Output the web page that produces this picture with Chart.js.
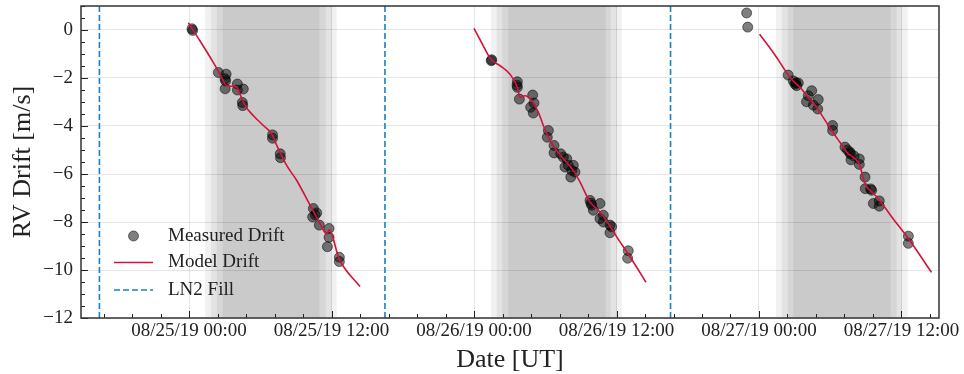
<!DOCTYPE html>
<html>
<head>
<meta charset="utf-8">
<script src="https://cdn.jsdelivr.net/npm/chart.js@4.4.0/dist/chart.umd.min.js"></script>
<style>
  html, body { margin: 0; padding: 0; background: #fff; }
  #wrap { width: 964px; height: 374px; }
</style>
</head>
<body>
<div id="wrap"><canvas id="drift" width="964" height="374"></canvas></div>
<script>
// hours since 08/25/19 00:00 UT
const xMin = -9.1, xMax = 63.16;
const yMin = -12, yMax = 1;

const xTickHours = [0, 12, 24, 36, 48, 60];
const xTickLabels = ['08/25/19 00:00', '08/25/19 12:00', '08/26/19 00:00',
  '08/26/19 12:00', '08/27/19 00:00', '08/27/19 12:00'];
const yTickValues = [0, -2, -4, -6, -8, -10, -12];

// measured drift, one pair of arrays per night
const n1Hours = [0.25, 0.30, 2.47, 3.12, 3.03, 3.08, 3.04, 4.07, 4.07, 4.57, 4.49, 4.52, 7.03, 7.03, 7.68, 7.70,
  10.47, 10.75, 10.41, 10.62, 10.97, 11.79, 11.79, 11.65, 12.66, 12.66];
const n1Drift = [0.05, -0.02, -1.77, -1.84, -2.03, -2.12, -2.45, -2.25, -2.50, -2.46, -3.02, -3.15, -4.37, -4.51, -5.16, -5.32,
  -7.44, -7.62, -7.79, -7.70, -8.13, -8.27, -8.64, -9.03, -9.47, -9.65];

const n2Hours = [25.49, 25.45, 27.65, 27.62, 27.65, 27.82, 28.94, 29.05, 28.77, 28.99, 30.26, 30.17, 30.74, 30.74,
  31.30, 31.52, 31.81, 31.66, 31.94, 32.36, 32.23, 32.50, 32.15, 33.77, 33.91, 33.85, 34.61, 34.05, 34.89, 34.61,
  34.89, 35.45, 35.59, 35.45, 36.99, 36.94];
const n2Drift = [-1.24, -1.28, -2.16, -2.30, -2.39, -2.88, -2.71, -3.04, -3.22, -3.46, -4.19, -4.47, -4.81, -5.12,
  -5.16, -5.30, -5.37, -5.71, -5.64, -5.64, -5.85, -5.92, -6.13, -7.10, -7.30, -7.22, -7.23, -7.51, -7.72, -7.86,
  -8.00, -8.13, -8.20, -8.45, -9.20, -9.51];

const n3Hours = [46.96, 47.05, 50.46, 50.89, 51.03, 51.31, 51.17, 51.10, 52.44, 52.15, 52.00, 52.57, 52.99, 52.95,
  54.20, 54.20, 55.24, 55.45, 55.66, 55.69, 55.75, 56.00, 56.45, 56.45, 56.93, 56.95, 57.40, 57.49, 57.63,
  58.13, 58.13, 60.58, 60.58];
const n3Drift = [0.71, 0.12, -1.88, -2.12, -2.25, -2.21, -2.32, -2.20, -2.53, -2.74, -2.99, -3.13, -2.90, -3.29,
  -3.98, -4.19, -4.88, -5.00, -5.09, -5.16, -5.41, -5.25, -5.37, -5.60, -6.13, -6.61, -6.62, -6.68, -7.23,
  -7.12, -7.34, -8.59, -8.89];

// model drift
const m1Hours = [-0.06, 0.93, 2.05, 2.61, 3.17, 4.01, 4.29, 4.72, 5.42, 6.26, 6.96, 7.24, 7.66, 8.22, 9.07,
  10.19, 10.89, 11.45, 11.62, 11.79, 12.66, 14.40];
const m1Drift = [0.30, -0.46, -1.36, -1.84, -2.32, -2.37, -2.67, -3.15, -3.57, -3.98, -4.33, -4.65, -5.09, -5.64, -6.27,
  -7.30, -7.93, -8.45, -8.50, -8.33, -9.56, -10.69];
const m2Hours = [24.0, 24.78, 25.45, 26.19, 27.03, 27.65, 27.87, 28.29, 28.86, 29.42, 29.84, 30.26, 30.96, 31.66,
  32.36, 32.93, 33.77, 34.61, 35.31, 36.02, 37.14, 38.48];
const m2Drift = [0.07, -0.66, -1.24, -1.49, -1.84, -2.39, -2.81, -2.74, -2.95, -3.43, -3.98, -4.47, -5.02, -5.44,
  -5.85, -6.34, -7.17, -7.58, -8.06, -8.62, -9.45, -10.51];
const m3Hours = [48.05, 49.2, 50.04, 50.61, 51.58, 52.15, 52.86, 53.41, 54.12, 54.82, 55.52, 55.94, 56.5, 56.78,
  57.07, 57.35, 58.05, 59.18, 60.58, 62.53];
const m3Drift = [-0.18, -0.94, -1.56, -1.98, -2.46, -2.81, -3.22, -3.64, -4.19, -4.68, -5.16, -5.30, -5.64, -6.20,
  -6.54, -6.68, -7.03, -7.79, -8.69, -10.10];

const ln2FillHours = [-7.55, 16.5, 40.55];

// twilight steps (evening / morning), hours
const nightStart = [[1.35, 1.85, 2.33, 2.84], [25.43, 25.91, 26.38, 26.89], [49.43, 49.91, 50.42, 50.89]];
const nightEnd = [[10.97, 11.51, 12.02, 12.44], [35.09, 35.51, 36.02, 36.44], [59.09, 59.60, 60.02, 60.52]];

const serif = "'Liberation Serif', 'DejaVu Serif', serif";
const pts = (hs, vs) => hs.map((h, i) => ({ x: h, y: vs[i] }));

const nightShade = {
  id: 'nightShade',
  beforeDraw(chart) {
    const { ctx, chartArea: a, scales: { x } } = chart;
    ctx.save();
    ctx.fillStyle = '#fff';
    ctx.fillRect(0, 0, chart.width, chart.height);
    ctx.beginPath();
    ctx.rect(a.left, a.top, a.right - a.left, a.bottom - a.top);
    ctx.clip();
    ctx.fillStyle = 'rgba(0,0,0,0.055)';
    nightStart.forEach((starts, n) => {
      const ends = nightEnd[n];
      for (let k = 0; k < starts.length; k++) {
        const x0 = x.getPixelForValue(starts[k]);
        const x1 = x.getPixelForValue(ends[ends.length - 1 - k]);
        ctx.fillRect(x0, a.top, x1 - x0, a.bottom - a.top);
      }
    });
    ctx.restore();
  }
};

const frameAndLegend = {
  id: 'frameAndLegend',
  afterDraw(chart) {
    const { ctx, chartArea: a, scales: { x, y } } = chart;
    ctx.save();
    // inward ticks
    ctx.strokeStyle = '#222';
    ctx.lineWidth = 1;
    ctx.beginPath();
    for (let i = Math.ceil(x.min / 2.4); i * 2.4 <= x.max; i++) {
      const px = Math.round(x.getPixelForValue(i * 2.4)) + 0.5;
      const len = i % 5 === 0 ? 7 : 4;
      ctx.moveTo(px, a.bottom);
      ctx.lineTo(px, a.bottom - len);
    }
    for (let i = Math.ceil(y.min / 0.5); i * 0.5 <= y.max; i++) {
      const py = Math.round(y.getPixelForValue(i * 0.5)) + 0.5;
      const len = i % 4 === 0 ? 7 : 4;
      ctx.moveTo(a.left, py);
      ctx.lineTo(a.left + len, py);
    }
    ctx.stroke();
    // frame
    ctx.strokeStyle = '#333';
    ctx.lineWidth = 1.5;
    ctx.strokeRect(a.left, a.top, a.right - a.left, a.bottom - a.top);

    // legend
    const lx = a.left + 33, tx = a.left + 87;
    const rows = [a.bottom - 82, a.bottom - 55.5, a.bottom - 28];
    ctx.beginPath();
    ctx.arc(lx + 19.5, rows[0], 5, 0, Math.PI * 2);
    ctx.fillStyle = 'rgba(0,0,0,0.5)';
    ctx.strokeStyle = 'rgba(0,0,0,0.5)';
    ctx.lineWidth = 1;
    ctx.fill();
    ctx.stroke();
    ctx.lineWidth = 1.6;
    ctx.strokeStyle = '#d3123c';
    ctx.beginPath();
    ctx.moveTo(lx, rows[1]);
    ctx.lineTo(lx + 39, rows[1]);
    ctx.stroke();
    ctx.strokeStyle = '#1a7fc4';
    ctx.setLineDash([6, 3]);
    ctx.beginPath();
    ctx.moveTo(lx, rows[2]);
    ctx.lineTo(lx + 39, rows[2]);
    ctx.stroke();
    ctx.setLineDash([]);
    ctx.fillStyle = '#222';
    ctx.font = '19px ' + serif;
    ctx.textBaseline = 'middle';
    ctx.textAlign = 'left';
    ctx.fillText('Measured Drift', tx, rows[0]);
    ctx.fillText('Model Drift', tx, rows[1]);
    ctx.fillText('LN2 Fill', tx, rows[2]);
    ctx.restore();
  }
};

const modelSet = (hs, vs) => ({
  type: 'line',
  data: pts(hs, vs),
  borderColor: '#d3123c',
  borderWidth: 1.6,
  pointRadius: 0,
  cubicInterpolationMode: 'monotone',
  order: 1
});

const fillSets = ln2FillHours.map(h => ({
  type: 'line',
  data: [{ x: h, y: yMin }, { x: h, y: yMax }],
  borderColor: '#1a7fc4',
  borderWidth: 1.6,
  borderDash: [6, 3],
  pointRadius: 0,
  order: 2
}));

new Chart(document.getElementById('drift'), {
  type: 'scatter',
  data: {
    datasets: [
      modelSet(m1Hours, m1Drift),
      modelSet(m2Hours, m2Drift),
      modelSet(m3Hours, m3Drift),
      ...fillSets,
      {
        type: 'scatter',
        data: [...pts(n1Hours, n1Drift), ...pts(n2Hours, n2Drift), ...pts(n3Hours, n3Drift)],
        backgroundColor: 'rgba(0,0,0,0.5)',
        borderColor: 'rgba(0,0,0,0.5)',
        borderWidth: 1,
        pointRadius: 5,
        order: 3
      }
    ]
  },
  options: {
    responsive: false,
    animation: false,
    devicePixelRatio: 1,
    layout: { padding: { top: 5, right: 25, left: 0, bottom: 0 } },
    plugins: { legend: { display: false }, tooltip: { enabled: false } },
    scales: {
      x: {
        type: 'linear',
        min: xMin,
        max: xMax,
        afterBuildTicks: s => { s.ticks = xTickHours.map(v => ({ value: v })); },
        afterFit: s => { s.height = 56; s.paddingLeft = 0; s.paddingRight = 0; },
        ticks: {
          callback: (v, i) => xTickLabels[i],
          font: { family: serif, size: 19 },
          color: '#222',
          padding: 2,
          maxRotation: 0,
          autoSkip: false
        },
        grid: { color: 'rgba(0,0,0,0.1)', drawTicks: false },
        border: { display: false },
        title: {
          display: true,
          text: 'Date [UT]',
          color: '#222',
          font: { family: serif, size: 26, lineHeight: 1.1 },
          padding: { top: 0, bottom: 0 }
        }
      },
      y: {
        type: 'linear',
        min: yMin,
        max: yMax,
        afterBuildTicks: s => { s.ticks = yTickValues.map(v => ({ value: v })); },
        afterFit: s => { s.width = 81; s.paddingTop = 0; s.paddingBottom = 0; },
        ticks: {
          callback: v => (v < 0 ? '\u2212' + Math.abs(v) : String(v)),
          font: { family: serif, size: 19 },
          color: '#222',
          padding: 8
        },
        grid: { color: 'rgba(0,0,0,0.1)', drawTicks: false },
        border: { display: false },
        title: {
          display: true,
          text: 'RV Drift [m/s]',
          color: '#222',
          font: { family: serif, size: 26, lineHeight: 1.1 },
          padding: { top: 9, bottom: 0 }
        }
      }
    }
  },
  plugins: [nightShade, frameAndLegend]
});
</script>
</body>
</html>
